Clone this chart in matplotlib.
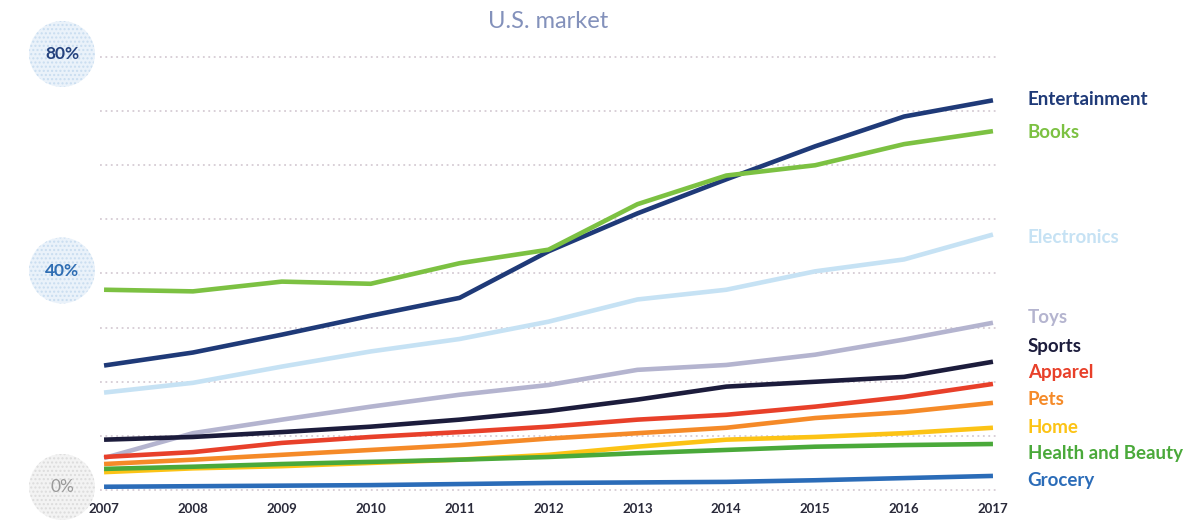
import numpy as np
import matplotlib.pyplot as plt
from matplotlib.patches import Ellipse

# data (share of sales online, %)
years = list(range(2007, 2018))
categories = ["Entertainment", "Books", "Electronics", "Toys", "Sports",
              "Apparel", "Pets", "Home", "Health and Beauty", "Grocery"]
entertainment = [23.0, 25.4, 28.7, 32.2, 35.5, 44.1, 51.1, 57.4, 63.5, 69.0, 72.0]
books = [37.0, 36.7, 38.5, 38.1, 41.9, 44.4, 52.8, 58.1, 60.0, 63.9, 66.3]
electronics = [18.0, 19.8, 22.8, 25.6, 27.9, 31.1, 35.2, 37.0, 40.4, 42.6, 47.2]
toys = [5.9, 10.5, 13.0, 15.4, 17.6, 19.4, 22.2, 23.1, 25.0, 27.8, 30.9]
sports = [9.3, 9.8, 10.7, 11.7, 13.0, 14.6, 16.7, 19.1, 20.0, 20.9, 23.7]
apparel = [6.1, 7.0, 8.7, 9.8, 10.7, 11.7, 13.0, 13.9, 15.4, 17.2, 19.6]
pets = [4.8, 5.6, 6.5, 7.4, 8.3, 9.5, 10.5, 11.5, 13.3, 14.4, 16.1]
home = [3.3, 4.0, 4.4, 5.0, 5.6, 6.5, 8.0, 9.3, 9.8, 10.5, 11.5]
health = [3.9, 4.3, 4.8, 5.2, 5.6, 6.1, 6.8, 7.4, 8.0, 8.3, 8.5]
grocery = [0.6, 0.7, 0.8, 0.9, 1.1, 1.3, 1.4, 1.5, 1.8, 2.2, 2.6]
series = [entertainment, books, electronics, toys, sports,
          apparel, pets, home, health, grocery]

colors = ['#1f3a78', '#7cc142', '#c6e2f4', '#b4b4cf', '#1c1c3c',
          '#e8402a', '#f58a28', '#fcc315', '#4aa93a', '#2b6cb8']
# label positions on the right (spread apart so they don't overlap)
label_y = [72.1, 66.1, 46.7, 31.8, 26.6, 21.8, 16.8, 11.6, 6.8, 1.7]

plt.rcParams['font.family'] = ['Lato', 'DejaVu Sans']

W, H = 1191, 520
fig = plt.figure(figsize=(W / 100, H / 100), dpi=100)
ax = fig.add_axes([99.6 / W, (H - 490) / H, 897.8 / W, 433 / H])
ax.set_xlim(2006.95, 2017.05)
ax.set_ylim(0, 80)
ax.axis('off')

# dotted gridlines
for g in range(0, 90, 10):
    ax.plot([2006.95, 2017.05], [g, g], linestyle=(0, (1, 2)), color='#d6ccd4',
            lw=1.3, zorder=1, clip_on=False)

for vals, c in zip(series, colors):
    ax.plot(years, vals, color=c, lw=3.3, solid_capstyle='butt', zorder=3, clip_on=False)

for name, c, ly in zip(categories, colors, label_y):
    ax.text(2017.39, ly, name, color=c, fontsize=13.5, fontweight='bold',
            va='center', ha='left', clip_on=False)

for y in years:
    ax.text(y, -3.5, str(y), ha='center', va='center', fontsize=9.5,
            fontweight='bold', color='#2a2a3a')

# y labels inside dotted circles
ticks = [(80, '80%', '#eaf2fa', '#c9ddf0', '#24427e'),
         (40, '40%', '#eaf2fa', '#c9ddf0', '#2e6db3'),
         (0, '0%', '#f3f3f3', '#dcdcdc', '#9a9a9a')]
for val, txt, fc, hc, tc in ticks:
    py = 490 - val * 5.4125 - 3
    e = Ellipse((62 / W, 1 - py / H), 66 / W, 66 / H, transform=fig.transFigure,
                facecolor=fc, edgecolor=hc, hatch='....', lw=0)
    fig.add_artist(e)
    fig.text(62 / W, 1 - py / H, txt, ha='center', va='center', fontsize=12.5,
             fontweight='bold' if val else 'normal', color=tc)

fig.text(548 / W, 1 - 21 / H, "U.S. market", ha='center', va='center',
         fontsize=17, color='#8391bb')

fig.savefig('out.png', dpi=100)
